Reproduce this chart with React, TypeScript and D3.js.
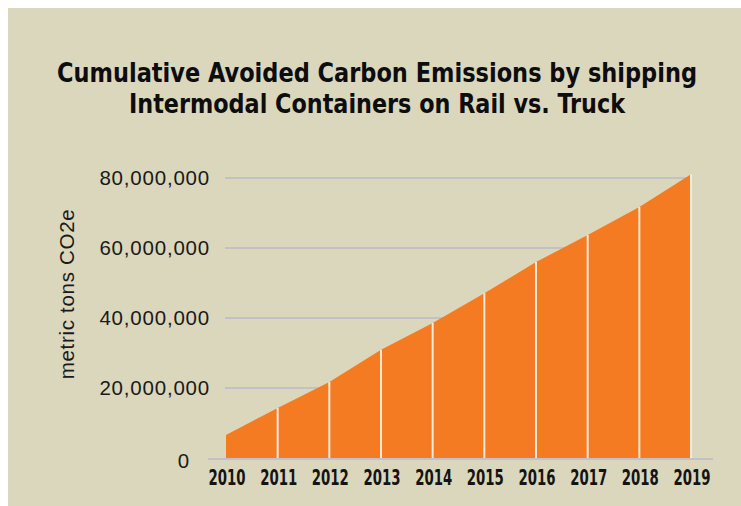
import React from "react";
import * as d3 from "d3";

const years = [2010, 2011, 2012, 2013, 2014, 2015, 2016, 2017, 2018, 2019];
const emissions = [6.6e6, 14.3e6, 21.7e6, 30.9e6, 38.6e6, 47.1e6, 56.0e6, 63.7e6, 71.7e6, 81.1e6];
const yTicks = [0, 20e6, 40e6, 60e6, 80e6];
const titleLines = [
  "Cumulative Avoided Carbon Emissions by shipping",
  "Intermodal Containers on Rail vs. Truck",
];
const yAxisTitle = "metric tons CO2e";

export default function App() {
  const x = d3.scaleLinear().domain([2010, 2019]).range([226, 691]);
  const y = d3.scaleLinear().domain([0, 80e6]).range([458, 178]);
  const data = years.map((yr, i) => ({ yr, v: emissions[i] }));
  const area = d3
    .area<{ yr: number; v: number }>()
    .x((d) => x(d.yr))
    .y0(y(0))
    .y1((d) => y(d.v));
  const fmt = d3.format(",");
  const narrow = "'Liberation Sans Narrow', 'DejaVu Sans Condensed', 'DejaVu Sans', sans-serif";
  const sans = "'Liberation Sans', Arial, Helvetica, sans-serif";
  return (
    <svg
      width={741}
      height={506}
      style={{ position: "absolute", left: 0, top: 0, display: "block" }}
    >
      <rect x={0} y={0} width={741} height={506} fill="#ffffff" />
      <rect x={8} y={8} width={733} height={498} fill="#dbd7bd" />
      {titleLines.map((t, i) => (
        <text
          key={i}
          x={377}
          y={82 + i * 31}
          textAnchor="middle"
          fontFamily={narrow}
          fontWeight="bold"
          fontStretch="condensed"
          fontSize={26}
          fill="#0d0d0d"
          textLength={i === 0 ? 640 : 496}
          lengthAdjust="spacingAndGlyphs"
        >
          {t}
        </text>
      ))}
      {yTicks
        .filter((t) => t > 0)
        .map((t) => (
          <line
            key={t}
            x1={225}
            x2={691}
            y1={y(t)}
            y2={y(t)}
            stroke="#c2c2c6"
            strokeWidth={2}
          />
        ))}
      <path d={area(data) || ""} fill="#f47b22" />
      {data.slice(1).map((d) => (
        <line
          key={d.yr}
          x1={x(d.yr)}
          x2={x(d.yr)}
          y1={y(d.v)}
          y2={y(0)}
          stroke="#fde9d8"
          strokeWidth={2}
        />
      ))}
      <line x1={208} x2={713} y1={y(0) + 1} y2={y(0) + 1} stroke="#c2c2c6" strokeWidth={2} />
      {yTicks.map((t) => (
        <text
          key={t}
          x={t === 0 ? 190 : 210}
          y={t === 0 ? y(t) + 3 : y(t)}
          dy="0.35em"
          textAnchor="end"
          fontFamily={sans}
          fontSize={20.5}
          letterSpacing={0.8}
          fill="#1a1a1a"
        >
          {fmt(t)}
        </text>
      ))}
      {years.map((yr) => (
        <text
          key={yr}
          x={x(yr) + 1}
          y={485}
          textAnchor="middle"
          fontFamily={narrow}
          fontWeight="bold"
          fontStretch="condensed"
          fontSize={22}
          fill="#141414"
          textLength={37}
          lengthAdjust="spacingAndGlyphs"
        >
          {yr}
        </text>
      ))}
      <text
        transform="translate(74,294) rotate(-90)"
        textAnchor="middle"
        fontFamily={sans}
        fontSize={20.5}
        letterSpacing={0.7}
        fill="#1a1a1a"
      >
        {yAxisTitle}
      </text>
    </svg>
  );
}
